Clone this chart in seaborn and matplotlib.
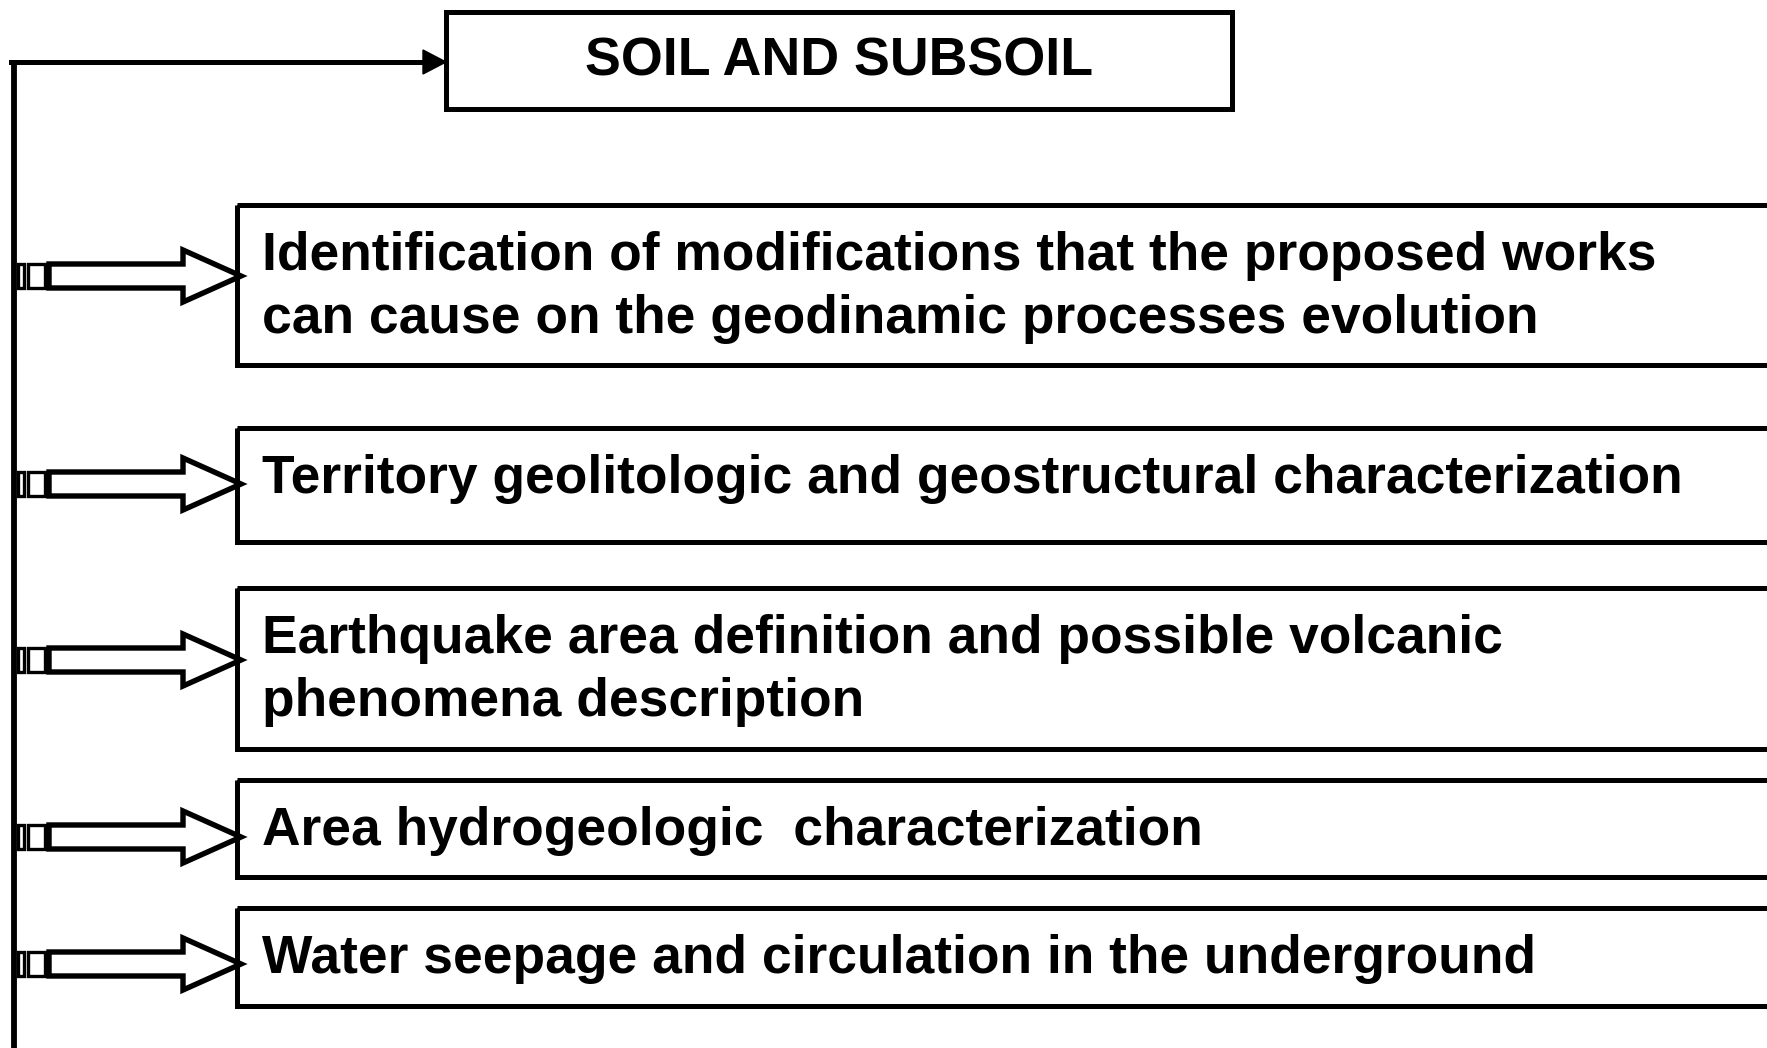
import matplotlib
matplotlib.use("Agg")
import matplotlib.pyplot as plt
from matplotlib.patches import Rectangle, Polygon
import seaborn as sns

sns.set_style("white")
plt.rcParams['font.family'] = ['Liberation Sans', 'DejaVu Sans']
plt.rcParams['text.color'] = 'black'

# texts
title = "SOIL AND SUBSOIL"
items = [
    ["Identification of modifications that the proposed works",
     "can cause on the geodinamic processes evolution"],
    ["Territory geolitologic and geostructural characterization"],
    ["Earthquake area definition and possible volcanic",
     "phenomena description"],
    ["Area hydrogeologic  characterization"],
    ["Water seepage and circulation in the underground"],
]

# layout (pixels, y downwards)
box_tops = [205, 428, 588, 780, 908]
box_bottoms = [365, 542, 749, 877, 1006]
arrow_y = [276, 484, 660, 837, 964]

fig = plt.figure(figsize=(17.67, 10.48), dpi=100)
ax = fig.add_axes([0, 0, 1, 1])
ax.set_xlim(0, 1767)
ax.set_ylim(1048, 0)
ax.axis("off")

lw = 3.6

# left spine + top connector
ax.plot([14, 14], [1048, 62], color="black", lw=4.2, solid_capstyle="butt")
ax.plot([11, 430], [62, 62], color="black", lw=lw, solid_capstyle="projecting")
ax.add_patch(Polygon([[423, 50], [446, 62], [423, 74]], closed=True, color="black"))

# title box
ax.add_patch(Rectangle((446, 12), 786, 97, fill=False, ec="black", lw=lw))
ax.text(839, 61, title, ha="center", va="center", fontsize=38.7, fontweight="bold")

for lines, top, bot, cy in zip(items, box_tops, box_bottoms, arrow_y):
    ax.add_patch(Rectangle((237, top), 1600, bot - top, fill=False, ec="black", lw=lw))
    for i, line in enumerate(lines):
        ax.text(262, top + 65 + i * 63, line, ha="left", va="baseline",
                fontsize=38.4, fontweight="bold")
    # striped block arrow
    h = 12
    ax.add_patch(Rectangle((18, cy - h), 6, 2 * h, fill=False, ec="black", lw=2.4))
    ax.add_patch(Rectangle((28, cy - h), 17, 2 * h, fill=False, ec="black", lw=2.4))
    ax.add_patch(Polygon([[49, cy - h], [183, cy - h], [183, cy - 26], [241, cy],
                          [183, cy + 26], [183, cy + h], [49, cy + h]],
                         closed=True, fill=False, ec="black", lw=3.9, joinstyle="miter"))

fig.savefig("out.png", dpi=100, facecolor="white")
